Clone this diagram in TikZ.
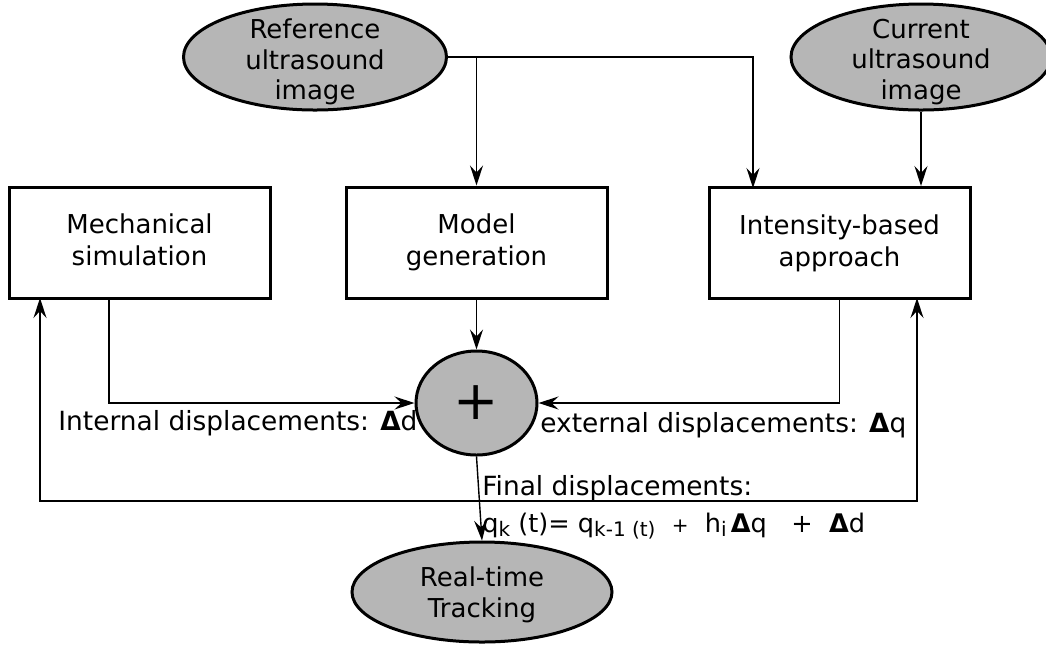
\documentclass[tikz,border=0pt]{standalone}
\usepackage{fontspec}
\setmainfont{DejaVu Sans}
\usetikzlibrary{arrows.meta,shapes.geometric}
\definecolor{fillgray}{RGB}{182,182,182}
\begin{document}
\begin{tikzpicture}[x=0.5pt,y=-0.5pt,
  txt/.style={font=\fontsize{13pt}{15.3pt}\selectfont, align=center, inner sep=0pt},
  oval/.style={ellipse, draw, line width=1.5pt, fill=fillgray, inner sep=0pt},
  block/.style={rectangle, draw, line width=1.5pt, minimum width=130.5pt, minimum height=55.5pt, inner sep=0pt, align=center, font=\fontsize{13pt}{16pt}\selectfont},
  conn/.style={line width=0.7pt, -{Stealth[length=10pt,width=6.5pt,inset=3.5pt]}},
  lbl/.style={anchor=base west, inner sep=0pt, font=\fontsize{13.2pt}{15.5pt}\selectfont}
]
\newcommand{\subtxt}[1]{\raisebox{-2pt}{\fontsize{10pt}{10pt}\selectfont #1}}
\useasboundingbox (0,0) rectangle (1046,645);
% ellipses
\node[oval, minimum width=131.5pt, minimum height=53pt] (ref) at (315,57) {};
\node[txt] (refT) at (315,62) {Reference\\ultrasound\\image};
\node[oval, minimum width=130pt, minimum height=53pt] (cur) at (921,57) {};
\node[txt] (curT) at (921,62) {Current\\ultrasound\\image};
% boxes
\node[block] (mech) at (139.5,242.5) {Mechanical\\simulation\vphantom{g}};
\node[block] (model) at (476.5,242.5) {Model\\generation\vphantom{g}};
\node[block] (int) at (839.5,243) {Intensity-based\\approach\vphantom{g}};
% plus
\node[ellipse, draw, line width=1.5pt, fill=fillgray, minimum width=60.5pt, minimum height=52pt, inner sep=0pt,
      font=\fontsize{27pt}{27pt}\selectfont] (plus) at (476.5,403) {+};
% tracking
\node[oval, minimum width=130pt, minimum height=50pt] (track) at (482,592) {};
\node[txt] (trackT) at (482,595) {Real-time\\Tracking};
% coordinates
\coordinate (c1) at (753,188);
\coordinate (m1) at (109,298);
\coordinate (fb) at (478,501);
\coordinate (fbl) at (40,298);
\coordinate (fbr) at (917,298);
% connectors
\draw[conn] (ref.east) -| (c1);
\draw[conn] (model.north |- ref.east) -- (model.north);
\draw[conn] (cur.south) -- (cur.south |- int.north);
\draw[conn] (m1) |- (plus.west);
\draw[conn] (int.south) |- (plus.east);
\draw[conn] (model.south) -- (plus.north);
\draw[conn] (plus.south) -- (track.north);
\draw[conn] (fb) -| (fbl);
\draw[conn] (fb) -| (fbr);
% labels
\node[lbl] (lint) at (58,430) {Internal displacements: \textbf{Δ}d};
\node[lbl] (lext) at (540,432) {external displacements: \textbf{Δ}q};
\node[lbl] (lfin) at (482,495) {Final displacements:};
\node[lbl, font=\fontsize{12.8pt}{15pt}\selectfont] (lform) at (482,532) {q\subtxt{k} (t)=~q\subtxt{k-1 (t)}\ \ {\fontsize{10pt}{10pt}\selectfont +}\ \ h\subtxt{i}\,\textbf{Δ}q\ \ \ +\ \ \textbf{Δ}d};
\end{tikzpicture}
\end{document}
